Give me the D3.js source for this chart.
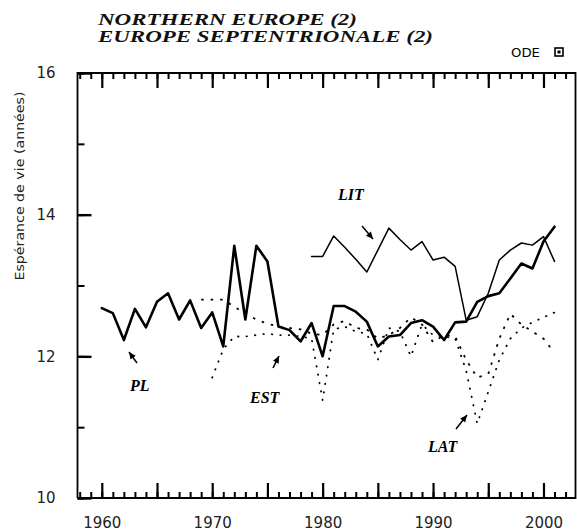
<!DOCTYPE html>
<html><head><meta charset="utf-8">
<script src="https://cdn.jsdelivr.net/npm/d3@7"></script>
<style>body{margin:0;background:#fff}svg{display:block}</style>
</head><body>
<svg id="c" width="577" height="531"></svg>
<script>
const plYears = d3.range(1960, 2002);
const plValues = [12.68,12.61,12.23,12.67,12.41,12.77,12.89,12.52,12.79,12.40,
  12.62,12.14,13.56,12.52,13.56,13.34,12.42,12.37,12.21,12.47,
  12.00,12.71,12.71,12.63,12.49,12.14,12.28,12.30,12.47,12.51,
  12.42,12.23,12.48,12.49,12.77,12.85,12.89,13.10,13.31,13.24,13.62,13.83];
const litYears = d3.range(1979, 2002);
const litValues = [13.41,13.41,13.70,13.54,13.37,13.19,13.50,13.81,13.65,13.50,
  13.62,13.36,13.40,13.27,12.51,12.56,12.89,13.36,13.50,13.60,13.57,13.69,13.34];
const estYears = d3.range(1969, 2002);
const estValues = [12.80,12.80,12.80,12.70,12.60,12.52,12.46,12.42,12.40,12.38,
  12.32,12.30,12.45,12.50,12.40,12.38,12.25,12.30,12.40,12.55,
  12.45,12.20,12.30,12.28,11.95,11.70,11.75,12.25,12.60,12.45,12.35,12.25,12.05];
const latYears = d3.range(1970, 2002);
const latValues = [11.70,12.10,12.28,12.28,12.30,12.32,12.30,12.30,12.28,12.25,
  11.38,12.38,12.42,12.35,12.32,11.95,12.40,12.35,12.00,12.45,
  12.30,12.28,12.25,11.80,11.05,11.50,11.95,12.25,12.40,12.48,12.55,12.62];
const yTickLabels = [10, 12, 14, 16];
const xTickLabels = [1960, 1970, 1980, 1990, 2000];
const titleLines = ["NORTHERN EUROPE (2)", "EUROPE SEPTENTRIONALE (2)"];
const yTitle = "Espérance de vie (années)";

const svg = d3.select("#c");
const L = 77.5, R = 575.5, T = 73, B = 498;
const x = d3.scaleLinear().domain([1957.8, 2002.9]).range([L, R]);
const y = d3.scaleLinear().domain([10, 16]).range([B, T]);

const g = svg.append("g");
g.append("path").attr("d", `M${L},${B}V${T}H${R}V${B}H${L}`)
  .attr("fill", "none").attr("stroke", "#000").attr("stroke-width", 1.8);

const allYears = d3.range(1958, 2003);
const fiveYears = allYears.filter(v => v % 5 === 0);
function styleAxis(sel, w) {
  sel.select(".domain").remove();
  sel.selectAll(".tick line").attr("stroke", "#000").attr("stroke-width", w);
}
g.append("g").attr("transform", `translate(0,${B})`)
  .call(d3.axisBottom(x).tickValues(allYears).tickSize(-6).tickFormat(""))
  .call(s => styleAxis(s, 2));
g.append("g").attr("transform", `translate(0,${B})`)
  .call(d3.axisBottom(x).tickValues(fiveYears).tickSize(-15).tickFormat(""))
  .call(s => styleAxis(s, 2.2));
g.append("g").attr("transform", `translate(0,${T})`)
  .call(d3.axisTop(x).tickValues(allYears).tickSize(-6).tickFormat(""))
  .call(s => styleAxis(s, 2));
g.append("g").attr("transform", `translate(0,${T})`)
  .call(d3.axisTop(x).tickValues(fiveYears).tickSize(-15).tickFormat(""))
  .call(s => styleAxis(s, 2.2));
g.append("g").attr("transform", `translate(0,${B})`)
  .call(d3.axisBottom(x).tickValues(xTickLabels).tickSize(0).tickPadding(19).tickFormat(d3.format("d")))
  .call(s => { s.select(".domain").remove();
    s.selectAll("text").attr("font-family", "DejaVu Sans").attr("font-size", 15).attr("fill", "#222"); });
g.append("g").attr("transform", `translate(${L},0)`)
  .call(d3.axisLeft(y).tickValues(d3.range(10, 17)).tickSize(-7).tickFormat(""))
  .call(s => styleAxis(s, 2));
g.append("g").attr("transform", `translate(${L},0)`)
  .call(d3.axisLeft(y).tickValues(yTickLabels).tickSize(-14).tickPadding(22).tickFormat(d3.format("d")))
  .call(s => { styleAxis(s, 2.4);
    s.selectAll("text").attr("font-family", "DejaVu Sans").attr("font-size", 15).attr("fill", "#222"); });

const line = d3.line().x(d => x(d[0])).y(d => y(d[1]));
const zip = (a, b) => a.map((v, i) => [v, b[i]]);
const plot = svg.append("g").attr("fill", "none").attr("stroke", "#000")
  .attr("stroke-linejoin", "round").attr("stroke-linecap", "round");
plot.append("path").datum(zip(latYears, latValues)).attr("d", line)
  .attr("stroke-width", 1.8).attr("stroke-dasharray", "0.5 8");
plot.append("path").datum(zip(estYears, estValues)).attr("d", line)
  .attr("stroke-width", 1.8).attr("stroke-dasharray", "2.5 7").attr("stroke-linecap", "butt");
plot.append("path").datum(zip(litYears, litValues)).attr("d", line)
  .attr("stroke-width", 1.5);
plot.append("path").datum(zip(plYears, plValues)).attr("d", line)
  .attr("stroke-width", 2.6);

svg.append("g").selectAll("text").data(titleLines).join("text")
  .attr("x", 98).attr("y", (d, i) => 25 + i * 17)
  .attr("font-family", "Liberation Serif").attr("font-style", "italic").attr("font-weight", "bold")
  .attr("font-size", 16).attr("fill", "#111")
  .attr("textLength", (d, i) => i === 0 ? 259 : 335).attr("lengthAdjust", "spacingAndGlyphs")
  .text(d => d);

svg.append("text").attr("x", 511).attr("y", 57).attr("font-family", "DejaVu Sans")
  .attr("font-size", 12).attr("textLength", 29).attr("lengthAdjust", "spacingAndGlyphs").text("ODE");
svg.append("rect").attr("x", 555).attr("y", 48).attr("width", 8).attr("height", 8)
  .attr("fill", "none").attr("stroke", "#000").attr("stroke-width", 1.6);
svg.append("rect").attr("x", 557.5).attr("y", 50.5).attr("width", 3).attr("height", 3).attr("fill", "#000");

svg.append("text").attr("transform", "translate(24,186) rotate(-90)")
  .attr("text-anchor", "middle").attr("font-family", "DejaVu Sans").attr("font-size", 13)
  .attr("fill", "#222").attr("textLength", 189).attr("lengthAdjust", "spacingAndGlyphs").text(yTitle);

const labels = [
  {t: "PL", x: 130, y: 391, a: [137, 363, 129, 352]},
  {t: "EST", x: 250, y: 403, a: [273, 368, 279, 356]},
  {t: "LIT", x: 338, y: 200, a: [362, 226, 373, 239]},
  {t: "LAT", x: 428, y: 452, a: [456, 429, 467, 415]}
];
const lab = svg.append("g");
labels.forEach(d => {
  lab.append("text").attr("x", d.x).attr("y", d.y)
    .attr("font-family", "Liberation Serif").attr("font-style", "italic").attr("font-weight", "bold")
    .attr("font-size", 16).text(d.t);
  const [x1, y1, x2, y2] = d.a;
  lab.append("line").attr("x1", x1).attr("y1", y1).attr("x2", x2).attr("y2", y2)
    .attr("stroke", "#000").attr("stroke-width", 1.5);
  const ang = Math.atan2(y2 - y1, x2 - x1);
  const hl = 7, hw = 3.2;
  const bx = x2 - hl * Math.cos(ang), by = y2 - hl * Math.sin(ang);
  const px = -Math.sin(ang) * hw, py = Math.cos(ang) * hw;
  lab.append("path").attr("d", `M${x2},${y2}L${bx + px},${by + py}L${bx - px},${by - py}Z`).attr("fill", "#000");
});
</script>
</body></html>
